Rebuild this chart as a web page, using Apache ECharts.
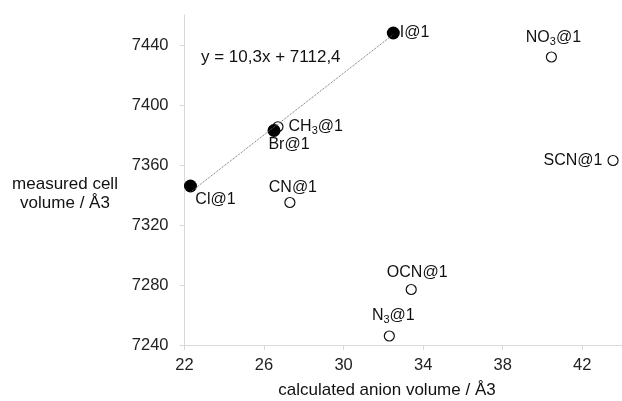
<!DOCTYPE html>
<html>
<head>
<meta charset="utf-8">
<script src="https://cdn.jsdelivr.net/npm/echarts@6/dist/echarts.min.js"></script>
<style>
html, body { margin: 0; padding: 0; background: #fff; }
#main { width: 622px; height: 401px; }
</style>
</head>
<body>
<div id="main"></div>
<script>
var xTicks = [22, 26, 30, 34, 38, 42];
var yTicks = [7240, 7280, 7320, 7360, 7400, 7440];

// halides, filled markers
var halideNames = ['Cl@1', 'Br@1', 'I@1'];
var halideX = [22.3, 26.5, 32.5];
var halideY = [7346, 7383, 7448];

// other anions, open markers
var otherNames = ['CH3@1', 'CN@1', 'NO3@1', 'SCN@1', 'OCN@1', 'N3@1'];
var otherX = [26.7, 27.3, 40.45, 43.55, 33.4, 32.3];
var otherY = [7385.5, 7335, 7432, 7363, 7277, 7246];

// linear fit of the halides, drawn between its end points
var fitX = [22.3, 32.5];
var fitY = [7342, 7447];
var fitText = 'y = 10,3x + 7112,4';

var FONT = '"Liberation Sans", Arial, sans-serif';
var INK = '#111';

var labelPos = {
  'Cl@1': { position: 'bottom', distance: 0, offset: [25, -2] },
  'Br@1': { position: 'bottom', distance: 0, offset: [15, -2] },
  'I@1': { position: 'right', distance: 0 },
  'CH3@1': { position: 'right', distance: 5 },
  'CN@1': { position: 'top', distance: 0, offset: [3, 0] },
  'NO3@1': { position: 'top', distance: 4, offset: [2, 0] },
  'SCN@1': { position: 'left', distance: 5 },
  'OCN@1': { position: 'top', distance: 2, offset: [6, 0] },
  'N3@1': { position: 'top', distance: 5, offset: [4, 0] }
};

function labelText(name) {
  return name.replace('3@', '{s|3}@');
}

function points(names, xs, ys) {
  return names.map(function (n, i) {
    return {
      name: n,
      value: [xs[i], ys[i]],
      label: Object.assign({ show: true, formatter: labelText(n) }, labelPos[n])
    };
  });
}

var baseLabel = {
  color: INK,
  opacity: 1,
  fontSize: 16,
  fontFamily: FONT,
  lineHeight: 19,
  rich: {
    s: { fontSize: 11, fontFamily: FONT, color: INK, verticalAlign: 'bottom' }
  }
};

var chart = echarts.init(document.getElementById('main'));

var option = {
  animation: false,
  grid: { left: 184.5, right: 0, top: 15, bottom: 56 },
  xAxis: {
    type: 'value',
    min: 22,
    max: 44,
    splitLine: { show: false },
    axisLine: { show: true, lineStyle: { color: '#d9d9d9', width: 1 } },
    axisTick: { show: true, length: 5, customValues: xTicks, lineStyle: { color: '#d9d9d9' } },
    axisLabel: { customValues: xTicks, margin: 12, fontSize: 16.5, color: '#222', fontFamily: FONT }
  },
  yAxis: {
    type: 'value',
    min: 7240,
    max: 7460,
    interval: 40,
    splitLine: { show: false },
    axisLine: { show: true, lineStyle: { color: '#d9d9d9', width: 1 } },
    axisTick: { show: true, length: 5, customValues: yTicks, lineStyle: { color: '#d9d9d9' } },
    axisLabel: {
      customValues: yTicks, margin: 16, fontSize: 16.5, color: '#222', fontFamily: FONT,
      formatter: function (v) { return String(v); }
    }
  },
  graphic: [
    {
      type: 'text', x: 201, y: 57,
      style: { text: fitText, fontSize: 17, fontFamily: FONT, fill: INK, verticalAlign: 'middle' }
    },
    {
      type: 'text', x: 65, y: 194,
      style: {
        text: 'measured cell\nvolume / Å3', fontSize: 17, fontFamily: FONT, fill: INK,
        align: 'center', verticalAlign: 'middle', lineHeight: 19
      }
    },
    {
      type: 'text', x: 387, y: 390,
      style: {
        text: 'calculated anion volume / Å3', fontSize: 17, fontFamily: FONT, fill: INK,
        align: 'center', verticalAlign: 'middle'
      }
    }
  ],
  series: [
    {
      type: 'line',
      data: fitX.map(function (x, i) { return [x, fitY[i]]; }),
      showSymbol: false,
      silent: true,
      lineStyle: { type: 'dotted', width: 1, color: '#666' }
    },
    {
      type: 'scatter',
      symbol: 'circle',
      symbolSize: 10,
      itemStyle: { color: '#fff', borderColor: '#111', borderWidth: 1.2, opacity: 1 },
      label: baseLabel,
      data: points(otherNames, otherX, otherY)
    },
    {
      type: 'scatter',
      symbol: 'circle',
      symbolSize: 13,
      itemStyle: { color: '#000', opacity: 1 },
      label: baseLabel,
      data: points(halideNames, halideX, halideY)
    }
  ]
};

chart.setOption(option);
</script>
</body>
</html>
